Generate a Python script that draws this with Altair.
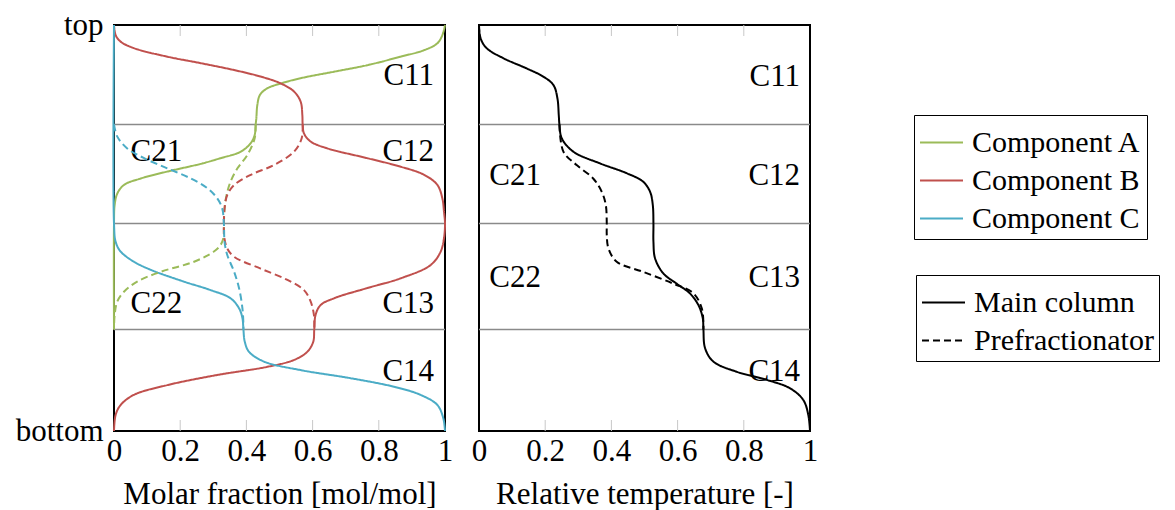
import altair as alt
import pandas as pd

FONT = "Liberation Serif"
FS = 31
LEG_FS = 30

# vertical position: 1 = top of column, 0 = bottom
SECTION_BOUNDS = [0.755, 0.511, 0.25]
X_TICKS = [0.2, 0.4, 0.6, 0.8]
X_LABELS = [0, 0.2, 0.4, 0.6, 0.8, 1]
Y_LABELS = [0, 1]

COMPONENTS = ["Component A", "Component B", "Component C"]
COMP_COLORS = ["#9bbb59", "#c0504d", "#4bacc6"]
COLUMNS = ["Main column", "Prefractionator"]

# ---- Molar fractions, main column ----
A_MAIN_X = [1.000, 0.992, 0.977, 0.937, 0.866, 0.765, 0.665, 0.564, 0.504, 0.463, 0.441, 0.433, 0.430, 0.428,
            0.425, 0.413, 0.383, 0.322, 0.262, 0.161, 0.081, 0.030, 0.010, 0.002, 0.000, 0.000]
A_MAIN_Y = [1.000, 0.975, 0.955, 0.938, 0.922, 0.901, 0.885, 0.869, 0.856, 0.844, 0.828, 0.803, 0.770, 0.755,
            0.729, 0.709, 0.688, 0.672, 0.658, 0.639, 0.622, 0.606, 0.585, 0.557, 0.511, 0.250]

B_MAIN_X = [0.000, 0.005, 0.020, 0.060, 0.161, 0.262, 0.363, 0.443, 0.504, 0.544,
            0.564, 0.569, 0.570, 0.574, 0.594, 0.645, 0.765, 0.866, 0.937, 0.977,
            0.992, 0.997, 1.000, 0.997, 0.987, 0.957, 0.866, 0.765, 0.665, 0.624,
            0.609, 0.605, 0.602, 0.584, 0.544, 0.463, 0.312, 0.161, 0.060, 0.020,
            0.005, 0.000]
B_MAIN_Y = [1.000, 0.975, 0.959, 0.943, 0.922, 0.906, 0.889, 0.873, 0.856, 0.836,
            0.811, 0.778, 0.755, 0.733, 0.713, 0.696, 0.672, 0.651, 0.631, 0.606,
            0.573, 0.540, 0.511, 0.475, 0.442, 0.409, 0.376, 0.352, 0.327, 0.310,
            0.286, 0.250, 0.220, 0.195, 0.175, 0.158, 0.138, 0.113, 0.089, 0.064,
            0.040, 0.000]

C_MAIN_X = [0.000, 0.000, 0.005, 0.020, 0.060, 0.111, 0.211, 0.292, 0.352, 0.378, 0.388,
            0.391, 0.395, 0.408, 0.453, 0.564, 0.715, 0.846, 0.926, 0.977, 0.995, 1.000]
C_MAIN_Y = [1.000, 0.511, 0.466, 0.442, 0.417, 0.397, 0.368, 0.347, 0.327, 0.302, 0.278,
            0.250, 0.220, 0.195, 0.171, 0.150, 0.130, 0.109, 0.089, 0.064, 0.031, 0.000]

# ---- Molar fractions, prefractionator ----
A_PRE_X = [0.428, 0.425, 0.403, 0.373, 0.352, 0.340, 0.334, 0.332, 0.331, 0.322, 0.302, 0.242, 0.141,
           0.070, 0.030, 0.010, 0.002, 0.000]
A_PRE_Y = [0.755, 0.721, 0.680, 0.647, 0.614, 0.581, 0.548, 0.511, 0.478, 0.458, 0.442, 0.417, 0.392,
           0.368, 0.343, 0.319, 0.286, 0.250]

B_PRE_X = [0.570, 0.567, 0.544, 0.483, 0.413, 0.363, 0.342, 0.334, 0.332, 0.333, 0.342, 0.363, 0.443,
           0.524, 0.574, 0.594, 0.604, 0.605]
B_PRE_Y = [0.755, 0.721, 0.688, 0.655, 0.631, 0.606, 0.581, 0.548, 0.511, 0.478, 0.450, 0.429, 0.400,
           0.372, 0.347, 0.319, 0.286, 0.250]

C_PRE_X = [0.000, 0.010, 0.040, 0.091, 0.161, 0.232, 0.282, 0.312, 0.327, 0.332, 0.334, 0.342, 0.363,
           0.378, 0.388, 0.391, 0.391]
C_PRE_Y = [0.755, 0.725, 0.696, 0.672, 0.647, 0.622, 0.598, 0.573, 0.548, 0.511, 0.466, 0.434, 0.392,
           0.351, 0.302, 0.261, 0.250]

# ---- Relative temperature ----
T_MAIN_X = [0.000, 0.005, 0.023, 0.074, 0.144, 0.194, 0.225, 0.237, 0.241, 0.243,
            0.250, 0.285, 0.366, 0.446, 0.496, 0.517, 0.525, 0.527, 0.527, 0.532,
            0.557, 0.597, 0.637, 0.663, 0.676, 0.678, 0.683, 0.708, 0.778, 0.869,
            0.940, 0.980, 0.995, 1.000]
T_MAIN_Y = [1.000, 0.967, 0.943, 0.918, 0.893, 0.873, 0.852, 0.819, 0.778, 0.755,
            0.721, 0.688, 0.659, 0.635, 0.614, 0.589, 0.557, 0.511, 0.466, 0.425,
            0.388, 0.363, 0.339, 0.310, 0.278, 0.250, 0.204, 0.171, 0.146, 0.126,
            0.105, 0.076, 0.039, 0.000]

T_PRE_X = [0.243, 0.255, 0.295, 0.345, 0.371, 0.383, 0.386, 0.386, 0.391, 0.416, 0.496, 0.587,
           0.648, 0.673, 0.678, 0.678]
T_PRE_Y = [0.755, 0.688, 0.655, 0.622, 0.589, 0.557, 0.511, 0.483, 0.450, 0.417, 0.392, 0.363,
           0.339, 0.302, 0.261, 0.250]

# ---- Section labels ----
L_RIGHT_NAMES = ["C11", "C12", "C13", "C14"]
L_RIGHT_X = [0.967, 0.967, 0.967, 0.967]
L_RIGHT_Y = [0.875, 0.688, 0.314, 0.146]
L_LEFT_NAMES = ["C21", "C22"]
L_LEFT_X = [0.050, 0.050]
L_LEFT_Y = [0.688, 0.314]

R_RIGHT_NAMES = ["C11", "C12", "C13", "C14"]
R_RIGHT_X = [0.970, 0.970, 0.970, 0.970]
R_RIGHT_Y = [0.873, 0.629, 0.378, 0.146]
R_LEFT_NAMES = ["C21", "C22"]
R_LEFT_X = [0.031, 0.031]
R_LEFT_Y = [0.629, 0.378]


def series(xs, ys, sid, comp, col):
    return pd.DataFrame({"x": xs, "y": ys, "idx": list(range(len(xs))),
                         "series": sid, "component": comp, "column": col})


df_left = pd.concat([
    series(A_MAIN_X, A_MAIN_Y, "A_main", "Component A", "Main column"),
    series(B_MAIN_X, B_MAIN_Y, "B_main", "Component B", "Main column"),
    series(C_MAIN_X, C_MAIN_Y, "C_main", "Component C", "Main column"),
    series(A_PRE_X, A_PRE_Y, "A_pre", "Component A", "Prefractionator"),
    series(B_PRE_X, B_PRE_Y, "B_pre", "Component B", "Prefractionator"),
    series(C_PRE_X, C_PRE_Y, "C_pre", "Component C", "Prefractionator"),
], ignore_index=True)

df_t_main = series(T_MAIN_X, T_MAIN_Y, "T_main", "T", "Main column")
df_t_pre = series(T_PRE_X, T_PRE_Y, "T_pre", "T", "Prefractionator")

W, H = 331, 406
DASH = [7, 4]

dash_scale = alt.Scale(domain=COLUMNS, range=[[1, 0], DASH])
color_scale = alt.Scale(domain=COMPONENTS, range=COMP_COLORS)

color_legend = alt.Legend(title=None, orient="none", legendX=800, legendY=90,
                          symbolType="stroke", symbolSize=1849, symbolStrokeWidth=2,
                          labelFont=FONT, labelFontSize=LEG_FS, labelLimit=400, labelOffset=8,
                          strokeColor="black", padding=5, rowPadding=0)
dash_legend = alt.Legend(title=None, orient="none", legendX=802, legendY=250,
                         symbolType="stroke", symbolSize=1849, symbolStrokeWidth=2,
                         symbolStrokeColor="black",
                         labelFont=FONT, labelFontSize=LEG_FS, labelLimit=400, labelOffset=8,
                         strokeColor="black", padding=5, rowPadding=0)

x_scale = alt.Scale(domain=[0, 1], nice=False, zero=False)
y_scale = alt.Scale(domain=[0, 1], nice=False, zero=False)


def x_axis(title):
    return alt.Axis(values=X_LABELS, format="~g", title=title, labelPadding=5, titlePadding=13,
                    labelFlush=False, labelOverlap=False)


LEFT_Y_AXIS = alt.Axis(values=Y_LABELS, labelExpr="datum.value == 1 ? 'top' : 'bottom'",
                       title=None, labelPadding=11, minExtent=105, maxExtent=105)


def helper_layers(xax, yax, rn, rx, ry, ln, lx, ly):
    sec = alt.Chart(pd.DataFrame({"y": SECTION_BOUNDS})).mark_rule(
        color="#8a8a8a", strokeWidth=1.5).encode(y=alt.Y("y:Q", scale=y_scale, axis=yax))
    d = pd.DataFrame({"x": X_TICKS})
    top = alt.Chart(d).mark_rule(color="#c8c8c8", strokeWidth=1).encode(
        x=alt.X("x:Q", scale=x_scale, axis=xax), y=alt.value(0), y2=alt.value(11))
    bot = alt.Chart(d).mark_rule(color="#c8c8c8", strokeWidth=1).encode(
        x=alt.X("x:Q", scale=x_scale, axis=xax), y=alt.value(H - 11), y2=alt.value(H))
    r = alt.Chart(pd.DataFrame({"n": rn, "x": rx, "y": ry})).mark_text(
        align="right", baseline="middle", font=FONT, fontSize=FS, color="black").encode(
        x=alt.X("x:Q", scale=x_scale, axis=xax), y=alt.Y("y:Q", scale=y_scale, axis=yax), text="n:N")
    l = alt.Chart(pd.DataFrame({"n": ln, "x": lx, "y": ly})).mark_text(
        align="left", baseline="middle", font=FONT, fontSize=FS, color="black").encode(
        x=alt.X("x:Q", scale=x_scale, axis=xax), y=alt.Y("y:Q", scale=y_scale, axis=yax), text="n:N")
    return [sec, top, bot, r, l]


LX = x_axis("Molar fraction [mol/mol]")
RX = x_axis("Relative temperature [-]")

left_lines = alt.Chart(df_left).mark_line(strokeWidth=2, interpolate="catmull-rom").encode(
    x=alt.X("x:Q", scale=x_scale, axis=LX),
    y=alt.Y("y:Q", scale=y_scale, axis=LEFT_Y_AXIS),
    color=alt.Color("component:N", scale=color_scale, legend=color_legend),
    strokeDash=alt.StrokeDash("column:N", scale=dash_scale, legend=dash_legend),
    detail="series:N",
    order="idx:Q",
)

left = alt.layer(*helper_layers(LX, LEFT_Y_AXIS, L_RIGHT_NAMES, L_RIGHT_X, L_RIGHT_Y,
                                L_LEFT_NAMES, L_LEFT_X, L_LEFT_Y),
                 left_lines).properties(width=W, height=H)


def t_line(df, dash):
    return alt.Chart(df).mark_line(strokeWidth=2, interpolate="catmull-rom", color="black",
                                   strokeDash=dash).encode(
        x=alt.X("x:Q", scale=x_scale, axis=RX),
        y=alt.Y("y:Q", scale=y_scale, axis=None),
        order="idx:Q",
    )


right = alt.layer(*helper_layers(RX, None, R_RIGHT_NAMES, R_RIGHT_X, R_RIGHT_Y,
                                 R_LEFT_NAMES, R_LEFT_X, R_LEFT_Y),
                  t_line(df_t_main, [1, 0]), t_line(df_t_pre, DASH)).properties(width=W, height=H)

chart = alt.hconcat(left, right, spacing=16).properties(padding=0).configure_view(
    stroke="black", strokeWidth=2).configure_axis(
    grid=False, domain=False, ticks=False,
    labelFont=FONT, labelFontSize=FS, labelColor="black",
    titleFont=FONT, titleFontSize=FS, titleColor="black", titleFontWeight="normal",
).configure_legend(labelColor="black")

chart.save("out.html", embed_options={"renderer": "svg", "actions": False})
